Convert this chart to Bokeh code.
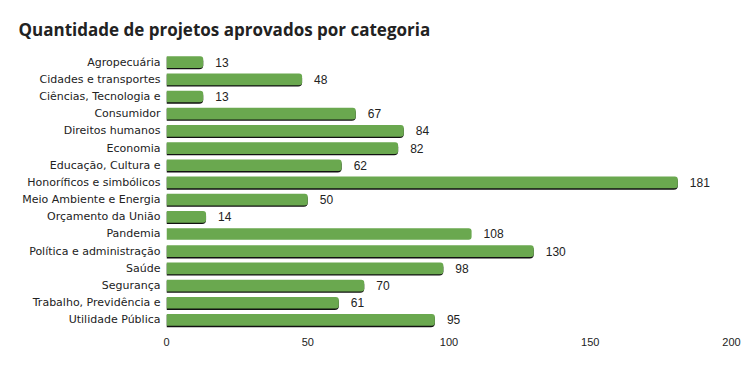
from bokeh.plotting import figure
from bokeh.models import ColumnDataSource, FactorRange, Range1d, FixedTicker
from bokeh.transform import dodge
from bokeh.core.properties import value
from bokeh.embed import file_html
from bokeh.resources import INLINE

categories = ["Agropecuária", "Cidades e transportes", "Ciências, Tecnologia e",
              "Consumidor", "Direitos humanos", "Economia", "Educação, Cultura e",
              "Honoríficos e simbólicos", "Meio Ambiente e Energia", "Orçamento da União",
              "Pandemia", "Política e administração", "Saúde", "Segurança",
              "Trabalho, Previdência e", "Utilidade Pública"]
counts = [13, 48, 13, 67, 84, 82, 62, 181, 50, 14, 108, 130, 98, 70, 61, 95]
x_ticks = [0, 50, 100, 150, 200]

shadow_alpha = [0.0 if c == "Pandemia" else 1.0 for c in categories]
src = ColumnDataSource(dict(cat=categories, val=counts,
                            label=[str(v) for v in counts],
                            shadow_alpha=shadow_alpha))

p = figure(width=743, height=359, output_backend="svg", toolbar_location=None,
           y_range=FactorRange(*reversed(categories), range_padding=0),
           x_range=Range1d(0, 200),
           min_border_left=166, min_border_right=12, min_border_top=53,
           min_border_bottom=31)
p.title.text = "Quantidade de projetos aprovados por categoria"
p.title.text_font = "Open Sans"
p.title.text_font_size = "17px"
p.title.text_font_style = "bold"
p.title.text_color = "#222222"
p.title.align = "left"
p.title.offset = -148
p.title.standoff = 26

p.outline_line_color = None
p.grid.visible = False

# shadow bars
p.hbar(y=dodge("cat", -0.07, range=p.y_range), left=0, right="val", height=0.7,
       source=src, fill_color="#111111", line_color=None,
       fill_alpha="shadow_alpha", border_radius=(0, 4, 4, 0))
p.hbar(y="cat", left=0, right="val", height=0.68, source=src,
       fill_color="#6aa84f", line_color=None, border_radius=(0, 3, 3, 0))

p.text(x="val", y="cat", text="label", source=src, x_offset=12,
       text_align="left", text_baseline="middle",
       text_font=value("Liberation Sans"), text_font_size="12px",
       text_color="#222222")

p.xaxis.ticker = FixedTicker(ticks=x_ticks)
p.xaxis.axis_line_color = None
p.xaxis.major_tick_line_color = None
p.xaxis.minor_tick_line_color = None
p.xaxis.major_label_text_font = "Liberation Sans"
p.xaxis.major_label_text_font_size = "11px"
p.xaxis.major_label_text_color = "#222222"
p.xaxis.major_label_standoff = 3

p.yaxis.axis_line_color = None
p.yaxis.major_tick_line_color = None
p.yaxis.minor_tick_line_color = None
p.yaxis.major_label_text_font = "DejaVu Sans"
p.yaxis.major_label_text_font_size = "11px"
p.yaxis.major_label_text_color = "#222222"
p.yaxis.major_label_standoff = 0

open("out.html", "w").write(file_html(p, INLINE))
